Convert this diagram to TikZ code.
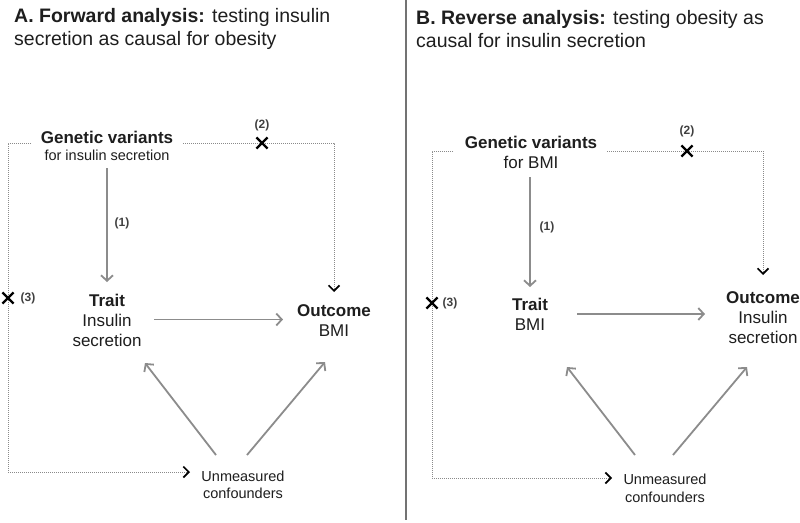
\documentclass[tikz,border=0pt]{standalone}
\usepackage{fontspec}
\setmainfont{Liberation Sans}
\usetikzlibrary{arrows.meta,shapes.misc,calc}
\definecolor{arrowgray}{HTML}{8C8C8C}
\definecolor{dotgray}{HTML}{8A8A8A}
\definecolor{txt}{HTML}{1E1E1E}
\begin{document}
\begin{tikzpicture}[x=1pt,y=-1pt,
  every node/.style={text=txt, inner sep=0pt},
  lbl/.style={font=\fontsize{17}{20}\selectfont, align=center},
  small/.style={font=\fontsize{14.5}{17}\selectfont, align=center},
  num/.style={font=\bfseries\fontsize{12}{14}\selectfont, text=black!75},
  garrow/.style={draw=arrowgray, line width=1.8pt, -{Straight Barb[length=5.5pt,width=12pt]}},
  dotline/.style={draw=dotgray, line width=0.9pt, dash pattern=on 1pt off 1pt, -{Straight Barb[length=5.5pt,width=11pt,line width=1.7pt,color=black]}},
  xmark/.style={cross out, draw=black, line width=2.2pt, minimum size=9pt},
  title/.style={font=\fontsize{19.5}{23}\selectfont, align=left, anchor=west}
]
\useasboundingbox[fill=white] (0,0) rectangle (800,522);

% titles and divider
\node[title] (tiA) at (14,29) {\textbf{A. Forward analysis:} testing insulin\\secretion as causal for obesity};
\node[title] (tiB) at (416,29) {\textbf{B. Reverse analysis:} testing obesity as\\causal for insulin secretion};
\draw[draw=black!55, line width=1.2pt] (406,0) -- (406,520);

% ---------- Panel A ----------
\node[lbl] (gA) at (107,145.5) {\textbf{Genetic variants}\\[-3pt]{\fontsize{14.5}{17}\selectfont for insulin secretion}};
\node[lbl] (tA) at (107,320) {\textbf{Trait}\\Insulin\\secretion};
\node[lbl] (oA) at (334,320.5) {\textbf{Outcome}\\BMI};
\node[small] (uA) at (243,484.5) {Unmeasured\\confounders};

\draw[garrow] ($(gA)+(0,22.5)$) -- ($(tA)+(0,-38)$);
\draw[garrow] ($(tA)+(47,-0.5)$) -- ($(oA)+(-51,-1)$);
\draw[garrow] ($(uA)+(-27,-29.5)$) -- ($(tA)+(38,43)$);
\draw[garrow] ($(uA)+(4,-29.5)$) -- ($(oA)+(-9,41.5)$);
\coordinate (lA) at (8,472);
\draw[dotline] ($(gA)+(-76,-2.5)$) -| (lA) -- ($(uA)+(-53,-12.5)$);
\draw[dotline] ($(gA)+(76,-2.5)$) -| ($(oA)+(0,-28.5)$);

\node[xmark] (x2A) at (262,143) {};
\node[num] (n2A) at (262,125) {(2)};
\node[xmark] (x3A) at (8,298) {};
\node[num] (n3A) at (28,298) {(3)};
\node[num] (n1A) at (122,223) {(1)};

% ---------- Panel B ----------
\node[lbl] (gB) at (531,152) {\textbf{Genetic variants}\\for BMI};
\node[lbl] (tB) at (530,314) {\textbf{Trait}\\BMI};
\node[lbl] (oB) at (763,317.5) {\textbf{Outcome}\\Insulin\\secretion};
\node[small, font=\fontsize{14.5}{18}\selectfont] (uB) at (665,488.5) {Unmeasured\\confounders};

\draw[garrow] ($(gB)+(-1,25)$) -- ($(tB)+(0,-27)$);
\draw[garrow] ($(tB)+(47,0)$) -- ($(oB)+(-58,-3.5)$);
\draw[garrow] ($(uB)+(-30,-33.5)$) -- ($(tB)+(37,53)$);
\draw[garrow] ($(uB)+(8,-33.5)$) -- ($(oB)+(-16,49.5)$);
\coordinate (lB) at (432,478);
\draw[dotline] ($(gB)+(-78,-1)$) -| (lB) -- ($(uB)+(-53,-10.5)$);
\draw[dotline] ($(gB)+(76,-1)$) -| ($(oB)+(0,-42.5)$);

\node[xmark] (x2B) at (687,151) {};
\node[num] (n2B) at (687,131) {(2)};
\node[xmark] (x3B) at (432,303) {};
\node[num] (n3B) at (450,303) {(3)};
\node[num] (n1B) at (547,227) {(1)};
\end{tikzpicture}
\end{document}
